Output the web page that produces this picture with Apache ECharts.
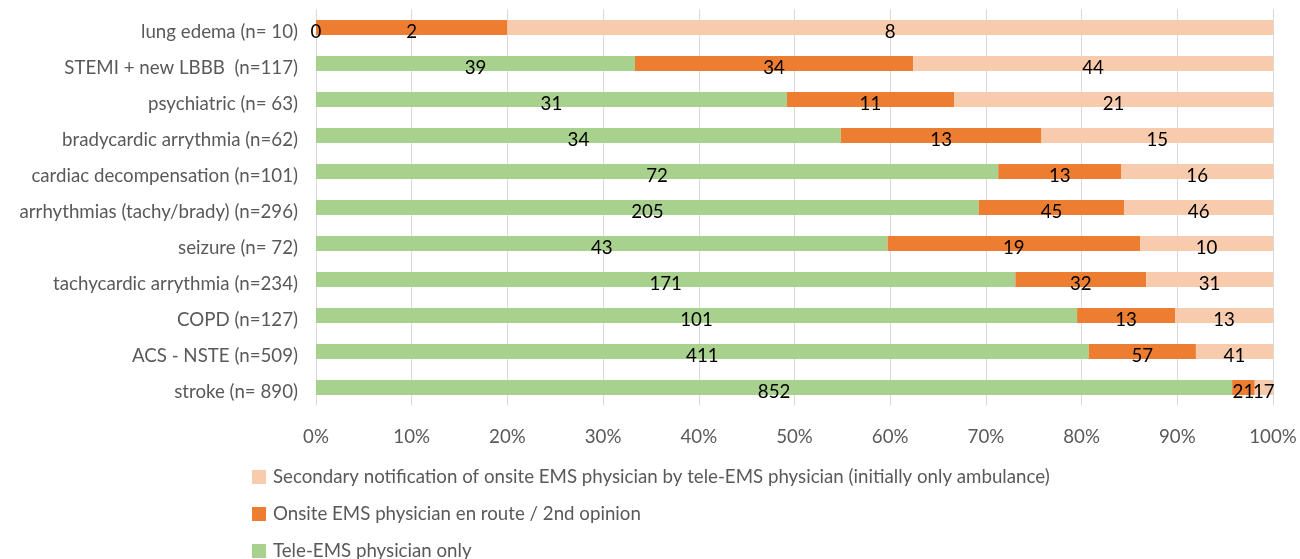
<!DOCTYPE html>
<html><head><meta charset="utf-8">
<script src="https://cdn.jsdelivr.net/npm/echarts@6/dist/echarts.min.js"></script>
<style>html,body{margin:0;padding:0;background:#fff}#c{width:1300px;height:559px}</style>
</head><body><div id="c"></div>
<script>
const categories = ["lung edema (n= 10)","STEMI + new LBBB  (n=117)","psychiatric (n= 63)","bradycardic arrythmia (n=62)","cardiac decompensation (n=101)","arrhythmias (tachy/brady) (n=296)","seizure (n= 72)","tachycardic arrythmia (n=234)","COPD (n=127)","ACS - NSTE (n=509)","stroke (n= 890)"];
const teleOnly = [0,39,31,34,72,205,43,171,101,411,852];
const onsiteRoute = [2,34,11,13,13,45,19,32,13,57,21];
const secondary = [8,44,21,15,16,46,10,31,13,41,17];
const seriesNames = ["Tele-EMS physician only","Onsite EMS physician en route / 2nd opinion","Secondary notification of onsite EMS physician by tele-EMS physician (initially only ambulance)"];
const colors = ["#A9D18E","#ED7D31","#F8CBAD"];
const totals = categories.map((_, i) => teleOnly[i] + onsiteRoute[i] + secondary[i]);
const raw = [teleOnly, onsiteRoute, secondary];
const FONT = "Lato";
const FS = 18.7;
const legendTops = [536.5, 499.5, 462.5];
const chart = echarts.init(document.getElementById('c'));
chart.setOption({
  animation: false,
  textStyle: {fontFamily: FONT},
  grid: {left: 316, right: 27, top: 9.5, bottom: 153.5},
  xAxis: {
    type: 'value', min: 0, max: 100, interval: 10,
    axisLabel: {formatter: v => v + '%', color: '#595959', fontSize: FS, fontFamily: FONT, margin: 22},
    splitLine: {show: true, lineStyle: {color: '#D9D9D9', width: 1}},
    axisLine: {show: false}, axisTick: {show: false}
  },
  yAxis: {
    type: 'category', data: categories, inverse: true,
    axisLabel: {color: '#595959', fontSize: FS, fontFamily: FONT, margin: 18, verticalAlign: 'top', lineHeight: 8},
    axisLine: {show: false}, axisTick: {show: false}
  },
  legend: [2, 1, 0].map(s => ({
    orient: 'vertical', left: 247, top: legendTops[s], itemWidth: 14, itemHeight: 14,
    data: [seriesNames[s]],
    textStyle: {color: '#595959', fontSize: FS, fontFamily: FONT, padding: [0, 0, 0, 2]},
    icon: 'rect'
  })),
  series: raw.map((arr, s) => ({
    name: seriesNames[s], type: 'bar', stack: 'all', barWidth: 15,
    itemStyle: {color: colors[s]},
    label: {show: true, position: 'inside', color: '#000', fontSize: FS, fontFamily: FONT, offset: [0, 4],
      formatter: p => String(arr[p.dataIndex])},
    data: arr.map((v, i) => v / totals[i] * 100)
  }))
});
</script></body></html>
